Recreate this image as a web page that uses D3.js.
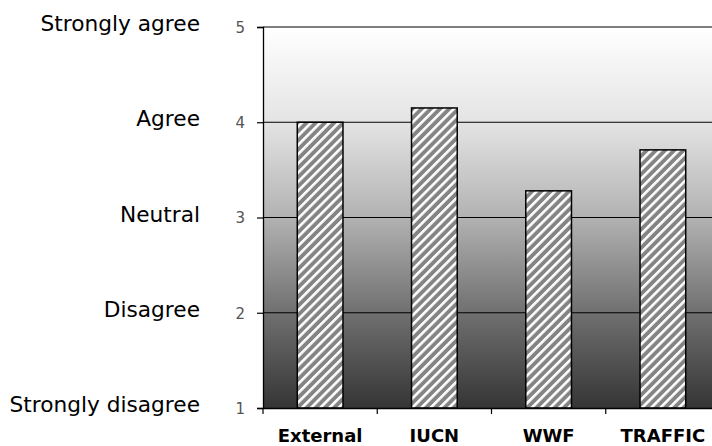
<!DOCTYPE html>
<html><head><meta charset="utf-8">
<script src="https://cdn.jsdelivr.net/npm/d3@7"></script>
<style>html,body{margin:0;padding:0;background:#fff;}</style>
</head><body>
<svg id="c" width="712" height="446"></svg>
<script>
const categories = ["External", "IUCN", "WWF", "TRAFFIC"];
const values = [4.0, 4.15, 3.28, 3.71];
const yTicks = [1, 2, 3, 4, 5];
const yLabels = ["Strongly disagree", "Disagree", "Neutral", "Agree", "Strongly agree"];

(function () {
const svg = d3.select("#c");
const mLeft = 263, mTop = 27, mBottom = 408, mRight = 720;

const x = d3.scaleBand().domain(categories).range([mLeft, mRight]).paddingInner(0.6).paddingOuter(0.3);
const xb = d3.scaleBand().domain(categories).range([mLeft, mRight]);
const y = d3.scaleLinear().domain([1, 5]).range([mBottom, mTop]);

const defs = svg.append("defs");
const grad = defs.append("linearGradient").attr("id", "bg").attr("x1", 0).attr("y1", 0).attr("x2", 0).attr("y2", 1);
[[0, "#ffffff"], [0.25, "#e4e4e4"], [0.5, "#b2b2b2"], [0.75, "#707070"], [1, "#353535"]]
  .forEach(([o, c]) => grad.append("stop").attr("offset", o).attr("stop-color", c));

const pat = defs.append("pattern").attr("id", "hatch").attr("patternUnits", "userSpaceOnUse")
  .attr("width", 6.5).attr("height", 6.5).attr("patternTransform", "rotate(45)");
pat.append("rect").attr("width", 6.5).attr("height", 6.5).attr("fill", "#848484");
pat.append("rect").attr("x", 0).attr("width", 2.6).attr("height", 6.5).attr("fill", "#ffffff");

svg.append("rect").attr("x", mLeft).attr("y", mTop).attr("width", mRight - mLeft).attr("height", mBottom - mTop)
  .attr("fill", "url(#bg)");

svg.append("g").selectAll("line").data(yTicks.filter(d => d > 1)).join("line")
  .attr("x1", mLeft).attr("x2", mRight).attr("y1", d => y(d)).attr("y2", d => y(d))
  .attr("stroke", "#000").attr("stroke-width", 1.2);

svg.append("g").selectAll("rect").data(values).join("rect")
  .attr("x", (d, i) => x(categories[i]))
  .attr("width", x.bandwidth())
  .attr("y", d => y(d))
  .attr("height", d => y(1) - y(d))
  .attr("fill", "url(#hatch)")
  .attr("stroke", "#000").attr("stroke-width", 1.5);

const yAxis = svg.append("g").attr("transform", `translate(${mLeft},0)`)
  .call(d3.axisLeft(y).tickValues(yTicks).tickSize(6).tickPadding(12).tickFormat(d3.format("d")));
yAxis.attr("font-size", null).attr("font-family", null);
yAxis.select(".domain").attr("stroke", "#000").attr("stroke-width", 1.3);
yAxis.selectAll(".tick line").attr("stroke", "#000").attr("stroke-width", 1.2);
yAxis.selectAll(".tick text").style("font-family", "DejaVu Sans").style("font-size", "15px")
  .attr("fill", "#555").attr("dy", "0.36em");

const xAxis = svg.append("g").attr("transform", `translate(0,${mBottom})`)
  .call(d3.axisBottom(xb).tickSize(0).tickPadding(21));
xAxis.attr("font-size", null).attr("font-family", null);
xAxis.select(".domain").attr("stroke", "#000").attr("stroke-width", 1.3);
xAxis.selectAll(".tick text").style("font-family", "DejaVu Sans").style("font-weight", "bold")
  .style("font-size", "18px").attr("fill", "#000");
svg.append("g").selectAll("line").data(categories).join("line")
  .attr("x1", d => xb(d)).attr("x2", d => xb(d)).attr("y1", mBottom).attr("y2", mBottom + 6)
  .attr("stroke", "#000").attr("stroke-width", 1.2);

svg.append("g").selectAll("text").data(yTicks).join("text")
  .attr("x", 200).attr("y", d => y(d) + 4)
  .attr("text-anchor", "end")
  .style("font-family", "DejaVu Sans").style("font-size", "21.7px").attr("fill", "#000")
  .text((d, i) => yLabels[i]);
})();
</script>
</body></html>
